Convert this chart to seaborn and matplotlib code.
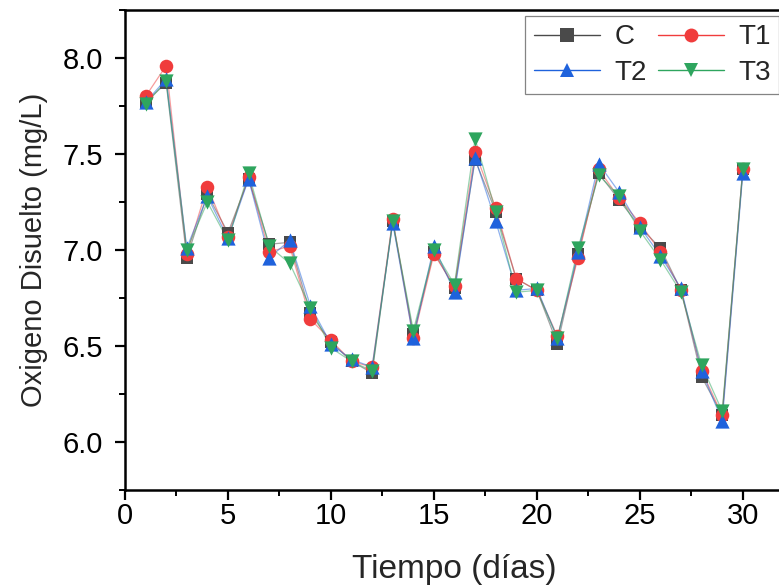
import matplotlib
matplotlib.use("Agg")
import matplotlib.pyplot as plt
from matplotlib.lines import Line2D
from matplotlib.ticker import MultipleLocator
import seaborn as sns
import pandas as pd

# Dissolved oxygen (mg/L) per day for the control and three treatments
dias = list(range(1, 31))
C = [7.77, 7.87, 6.96, 7.29, 7.09, 7.37, 7.03, 7.04, 6.67, 6.52,
     6.42, 6.36, 7.15, 6.56, 6.99, 6.80, 7.47, 7.20, 6.85, 6.79,
     6.51, 6.98, 7.40, 7.26, 7.12, 7.01, 6.79, 6.34, 6.14, 7.42]
T1 = [7.80, 7.96, 6.98, 7.33, 7.07, 7.38, 6.99, 7.02, 6.64, 6.53,
      6.42, 6.39, 7.16, 6.54, 6.98, 6.81, 7.51, 7.22, 6.85, 6.79,
      6.55, 6.96, 7.42, 7.27, 7.14, 6.99, 6.79, 6.37, 6.14, 7.42]
T2 = [7.77, 7.89, 7.01, 7.28, 7.06, 7.37, 6.96, 7.05, 6.71, 6.51,
      6.43, 6.39, 7.14, 6.54, 7.02, 6.78, 7.48, 7.15, 6.79, 6.80,
      6.54, 6.99, 7.45, 7.30, 7.12, 6.97, 6.80, 6.37, 6.11, 7.40]
T3 = [7.76, 7.88, 7.00, 7.25, 7.05, 7.40, 7.02, 6.93, 6.70, 6.49,
      6.42, 6.37, 7.15, 6.58, 7.00, 6.82, 7.58, 7.20, 6.78, 6.79,
      6.54, 7.01, 7.39, 7.28, 7.10, 6.95, 6.78, 6.40, 6.16, 7.42]

series = {"C": C, "T1": T1, "T2": T2, "T3": T3}
colors = {"C": "#4a4a4a", "T1": "#f03c3c", "T2": "#1f62dc", "T3": "#2ea55e"}
markers = {"C": "s", "T1": "o", "T2": "^", "T3": "v"}
sizes = {"C": 75, "T1": 95, "T2": 105, "T3": 105}

df = pd.DataFrame([(d, k, v) for k, vals in series.items() for d, v in zip(dias, vals)],
                  columns=["Tiempo", "Grupo", "OD"])

sns.set_theme(style="ticks")
plt.rcParams["font.family"] = ["Liberation Sans", "DejaVu Sans"]

fig = plt.figure(figsize=(7.79, 5.87), dpi=100)
ax = fig.add_axes([125 / 779, 1 - 490 / 587, 659 / 779, 480 / 587])

for name in series:
    sub = df[df["Grupo"] == name]
    sns.lineplot(data=sub, x="Tiempo", y="OD", ax=ax, color=colors[name],
                 lw=0.9, alpha=0.5, legend=False)
    sns.scatterplot(data=sub, x="Tiempo", y="OD", ax=ax, color=colors[name],
                    marker=markers[name], s=sizes[name], linewidth=0,
                    legend=False, zorder=3)

ax.set_xlim(0, 32)
ax.set_ylim(5.75, 8.25)
ax.xaxis.set_major_locator(MultipleLocator(5))
ax.xaxis.set_minor_locator(MultipleLocator(2.5))
ax.yaxis.set_minor_locator(MultipleLocator(0.25))
ax.set_yticks([6.0, 6.5, 7.0, 7.5, 8.0])
ax.set_yticklabels(["6.0", "6.5", "7.0", "7.5", "8.0"])
ax.tick_params(axis="both", which="major", direction="out", length=7, width=1.6,
               labelsize=21, color="black", labelcolor="black")
ax.tick_params(axis="x", which="major", pad=2)
ax.tick_params(axis="y", which="major", pad=9)
ax.tick_params(axis="both", which="minor", direction="out", length=4, width=1.4,
               color="black")
for side in ["left", "bottom", "top"]:
    ax.spines[side].set_linewidth(1.8)
    ax.spines[side].set_color("black")
ax.spines["right"].set_visible(False)

ax.set_xlabel("Tiempo (días)", fontsize=24, labelpad=17)
ax.set_ylabel("Oxigeno Disuelto (mg/L)", fontsize=21, labelpad=10)

# Row-wise legend order: C, T1 on the first row; T2, T3 on the second
order = ["C", "T2", "T1", "T3"]
handles = [Line2D([0], [0], color=colors[k], lw=1.0, marker=markers[k],
                  markersize=10, markerfacecolor=colors[k], markeredgewidth=0)
           for k in order]
leg = fig.legend(handles, order, ncol=2, loc="upper right",
                 bbox_to_anchor=(1.0, 1 - 16 / 587), fontsize=20, frameon=True,
                 fancybox=False, edgecolor="#666666", handlelength=2.4,
                 columnspacing=0.4, handletextpad=0.5, borderpad=0.3,
                 labelspacing=0.35, borderaxespad=0)
leg.get_frame().set_linewidth(0.9)

fig.savefig("out.png", dpi=100)
